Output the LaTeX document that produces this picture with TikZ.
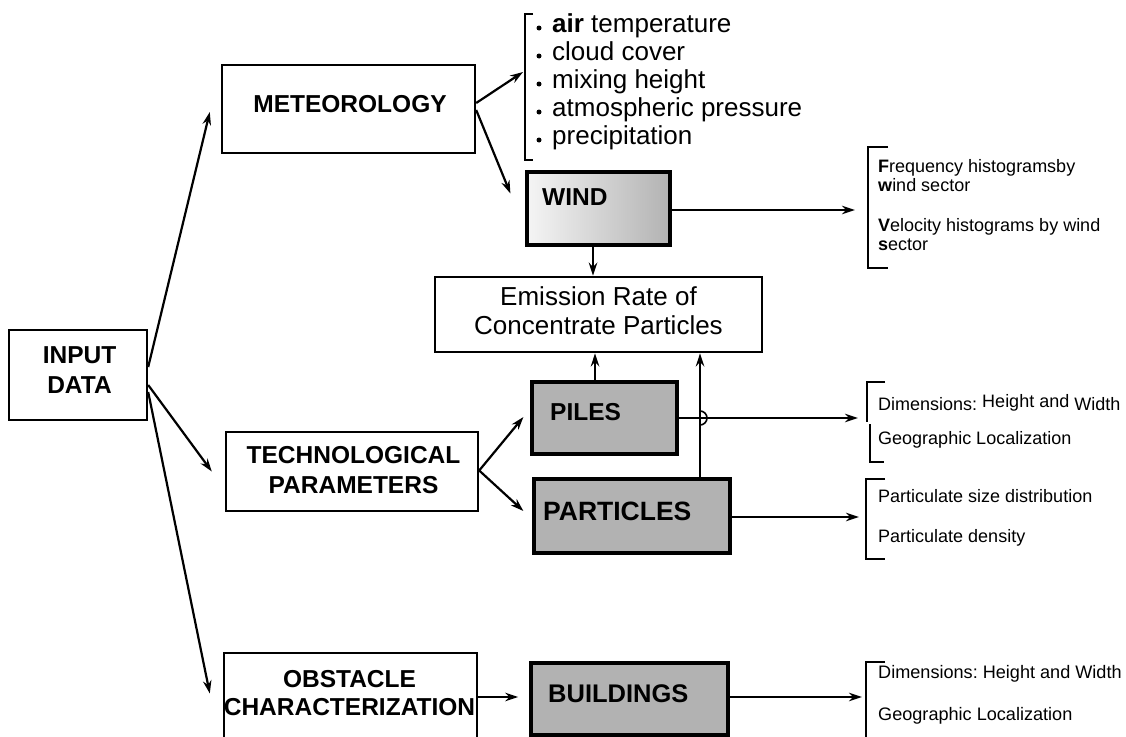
\documentclass[tikz,border=0pt]{standalone}
\usepackage{fontspec}
\setmainfont{Liberation Sans}
\usetikzlibrary{arrows.meta,calc}
\frenchspacing
\begin{document}
\begin{tikzpicture}[x=1pt,y=-1pt,
  box/.style={draw, line width=2.4pt, inner sep=0pt, fill=white},
  shaded/.style={draw, line width=3.2pt, fill=black!30, inner sep=0pt},
  lbl/.style={font=\fontsize{24.5}{28}\selectfont\bfseries, inner sep=0pt},
  big/.style={font=\fontsize{26}{29}\selectfont, inner sep=0pt},
  small/.style={font=\fontsize{18}{19}\selectfont, inner sep=0pt, anchor=base west},
  arr/.style={line width=2.2pt, -{Stealth[length=13pt,width=8.5pt]}},
  brk/.style={line width=1.4pt},
]
\useasboundingbox (0,0) rectangle (1126,736);
\clip (0,0) rectangle (1126,736);

% ---- boxes ----
\node[box, minimum width=138pt, minimum height=90pt] (input) at (78,375) {};
\node[box, minimum width=253pt, minimum height=88pt] (meteo) at (348.5,109) {};
\node[draw, line width=3.2pt, inner sep=0pt, left color=black!4, right color=black!30,
      minimum width=143pt, minimum height=73pt] (wind) at (598.5,208.5) {};
\node[draw, line width=2.8pt, inner sep=0pt, fill=white,
      minimum width=327pt, minimum height=75pt] (emis) at (598.5,314.5) {};
\node[shaded, minimum width=145pt, minimum height=72pt] (piles) at (604.5,418) {};
\node[shaded, minimum width=196pt, minimum height=74pt] (particles) at (632,516) {};
\node[box, minimum width=252pt, minimum height=79pt] (tech) at (352,471.5) {};
\node[box, minimum width=253pt, minimum height=107pt] (obst) at (350.5,706.5) {};
\node[shaded, minimum width=197pt, minimum height=72pt] (bld) at (629.5,699) {};

% ---- box texts ----
\node[lbl, anchor=base] (inputa) at (79.5,363) {INPUT};
\node[lbl, anchor=base] (inputb) at (79.5,393) {DATA};
\node[lbl, anchor=base] (meteot) at (350,112) {METEOROLOGY};
\node[lbl, anchor=base] (techa) at (353.5,463) {TECHNOLOGICAL};
\node[lbl, anchor=base] (techb) at (353.5,493) {PARAMETERS};
\node[lbl, anchor=base] (obsta) at (349.5,687) {OBSTACLE};
\node[lbl, anchor=base] (obstb) at (349.5,715) {CHARACTERIZATION};
\node[lbl, anchor=base west] (windt) at (542,205) {WIND};
\node[lbl, anchor=base west] (pilest) at (550,420) {PILES};
\node[lbl, anchor=base west, font=\fontsize{26.5}{28}\selectfont\bfseries] (partt) at (543,520) {PARTICLES};
\node[lbl, anchor=base west, font=\fontsize{25.5}{28}\selectfont\bfseries] (bldt) at (548,702) {BUILDINGS};
\node[big, anchor=base] (emisa) at (598.5,305) {Emission Rate of};
\node[big, anchor=base] (emisb) at (598.5,334) {Concentrate Particles};

% ---- meteorology list ----
\draw[brk, line width=1.7pt] (533,14) -- (525,14) -- (525,160) -- (533,160);
\node[big, anchor=base west] (m1) at (552,32) {\textbf{air} temperature};
\node[big, anchor=base west] (m2) at (552,60) {cloud cover};
\node[big, anchor=base west] (m3) at (552,88) {mixing height};
\node[big, anchor=base west] (m4) at (552,116) {atmospheric pressure};
\node[big, anchor=base west] (m5) at (552,144) {precipitation};
\foreach \yy in {28,56,84,112,140} \fill (539,\yy) circle (2.5);

% ---- wind list ----
\draw[brk] (888,147) -- (868,147) -- (868,268) -- (888,268);
\node[small] (w1) at (878,172) {\textbf{F}requency histogramsby};
\node[small] (w2) at (878,191) {\textbf{w}ind sector};
\node[small] (w3) at (878,231) {\textbf{V}elocity histograms by wind};
\node[small] (w4) at (878,250) {\textbf{s}ector};

% ---- piles list ----
\draw[brk] (885,382) -- (867,382) -- (867,422);
\draw[brk] (870,424) -- (870,462) -- (884,462);
\node[small] (p1) at (878,410) {Dimensions:\raisebox{3pt}{ Height and} Width};
\node[small] (p2) at (878,444) {Geographic Localization};

% ---- particles list ----
\draw[brk] (885,479) -- (866,479) -- (866,559) -- (885,559);
\node[small] (q1) at (878,502) {Particulate size distribution};
\node[small] (q2) at (878,542) {Particulate density};

% ---- buildings list ----
\draw[brk] (885,662) -- (866,662) -- (866,740);
\node[small, font=\fontsize{18.1}{19}\selectfont] (b1) at (878,678) {Dimensions: Height and Width};
\node[small, font=\fontsize{18.1}{19}\selectfont] (b2) at (878,720) {Geographic Localization};

% ---- connectors ----
\draw[arr] ($(input.east)+(0,-8)$) -- ($(meteo.west)+(-11,3)$);
\draw[arr] ($(input.east)+(0,10)$) -- ($(tech.west)+(-13,0)$);
\draw[arr] ($(input.east)+(0,17)$) -- ($(obst.west)+(-13,-13)$);

\draw[arr] ($(meteo.east)+(0,-6)$) -- (523,72);
\draw[arr] ($(meteo.east)+(0,1)$) -- ($(wind.west)+(-15,-15)$);
\draw[arr] ($(wind.east)+(0,1.5)$) -- (855,210);
\draw[arr] ($(wind.south)+(-5.5,0)$) coordinate (wd) -- (wd |- emis.north);

\draw[arr] ($(piles.north)+(-9.5,0)$) coordinate (pn) -- (pn |- emis.south);
\draw[arr] ($(particles.north)+(68,0)$) coordinate (pu) -- (pu |- emis.south);
\draw[arr] (piles.east) -- (858,418);
\draw[line width=1.6pt] (700,411) arc[start angle=-90, end angle=90, radius=7];

\draw[arr] ($(tech.east)+(0,-1)$) -- ($(piles.west)+(-7,-1)$);
\draw[arr] ($(tech.east)+(0,-1)$) -- ($(particles.west)+(-9,-5)$);
\draw[arr] ($(particles.east)+(0,1)$) -- (859,517);

\draw[arr] (bld.west -| obst.east) ++(0,-2) -- ++(40,0);
\draw[arr] ($(bld.east)+(0,-2)$) -- (862,697);
\end{tikzpicture}
\end{document}
